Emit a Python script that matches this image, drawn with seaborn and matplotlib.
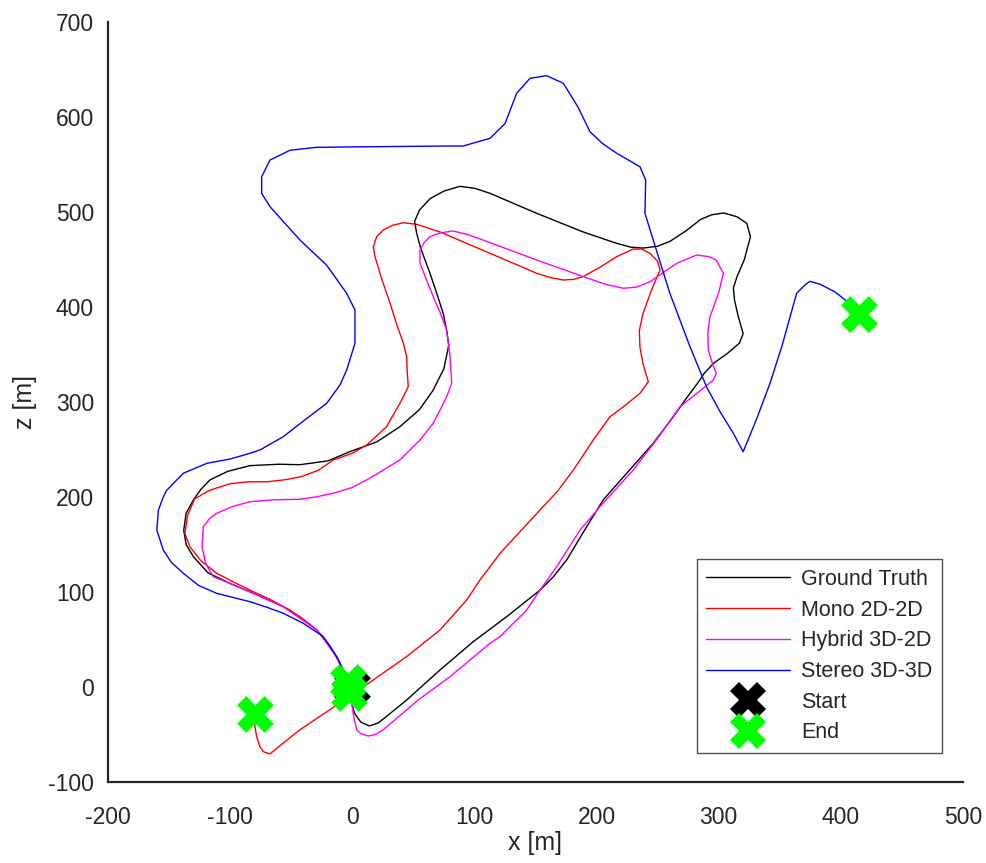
import numpy as np
import pandas as pd
import matplotlib
matplotlib.use("Agg")
import matplotlib.pyplot as plt
from matplotlib.lines import Line2D
import seaborn as sns

# trajectories (x [m], z [m])
gt_x = [0, -4.6, -12.8, -20, -29, -42, -56.5, -78, -100, -118, -130, -136, -138, -136, -130,
        -124, -116.5, -102, -83.8, -60, -42.8, -20, -2, 20, 39, 55, 66, 75, 79, 77, 74.5, 69,
        63.6, 56, 52.7, 51, 55, 63.6, 75, 88, 100, 112.7, 151, 189, 216.5, 228, 238, 250, 260,
        273, 285, 294, 304, 315, 323, 326, 321, 315, 312, 313, 316, 320, 317, 307, 296, 288,
        284.5, 273, 262.8, 246.4, 224.7, 205.5, 191.9, 175.5, 164.6, 153.7, 126.4, 99, 71.8,
        44.5, 28, 21, 14, 7, 2, -0.5, -2]
gt_z = [0, 7.4, 32, 46, 60, 73, 84.5, 97, 109, 120, 137, 150, 165, 183, 197,
        208, 218, 227, 233, 234.5, 234, 238, 247.7, 258, 274, 292, 312, 335, 360, 377, 393, 415,
        435.5, 462, 477.6, 490, 502, 514, 522, 527, 525, 519.7, 498.6, 479, 467, 463, 462, 464, 469,
        480, 492, 497, 499, 495, 488, 474, 450, 432, 420, 407, 390, 372, 362, 351, 341, 330,
        323, 303, 284.5, 256.5, 225, 197, 168.7, 133.7, 116, 102, 74, 47.7, 17.9,
        -13.7, -31, -38, -41, -37, -28, -17, -5]

mono_x = [0, -4, -10, -18, -29, -40, -51, -67, -83.8, -98, -111, -124, -133, -137, -135, -129,
          -117, -100, -85, -70, -56, -42.8, -28, -15.5, 0, 11.8, 28, 39, 45.8, 45, 44.5, 41.8,
          36, 30.9, 24, 18.6, 17.2, 20, 25.4, 33, 41.8, 52.7, 71.8, 110, 151, 162, 172.8, 181,
          189, 203, 216.5, 230, 237, 243.7, 250, 252, 245, 238, 235, 235.5, 238, 242.4, 235.5,
          222, 211, 197.3, 181, 168, 153.7, 121, 104.5, 93.7, 71.8, 44.5, 17.2, -4.6, -42.8,
          -56.5, -67.4, -72.9, -75.6, -78.3, -79.7, -80]
mono_z = [0, 7, 25, 43, 60, 71, 81, 92, 102, 111, 119.7, 133, 147.7, 161.8, 180, 198,
          207, 214, 216, 216, 218, 221, 228, 239, 246, 254.7, 274, 298.6, 316, 332, 347.7, 361.8,
          383, 404, 430, 453, 463.5, 474, 481, 486, 488.7, 487, 479, 458, 435.5, 431, 428.4, 429,
          432, 442, 453, 461, 461, 456.5, 448, 439, 418, 393, 375, 358, 340, 321.4, 309,
          295, 284.5, 260, 228.4, 206, 186.3, 140.7, 112.6, 91.6, 60, 32, 7.4, -12, -45,
          -59, -70.5, -68, -63, -52, -41.8, -28]

hybrid_x = [0, -4.6, -12.8, -29, -56.5, -85, -100, -113.8, -120, -123, -122, -117, -111, -98,
            -83.8, -65, -42.8, -30, -15.5, 0, 11.8, 25, 39, 55.4, 66.3, 72, 77.3, 81.4, 80, 77.3,
            72, 66.3, 55.4, 55.4, 59, 63.6, 72, 82.7, 95, 107, 151, 189, 207, 222, 233, 243.7,
            265.6, 282, 292, 298, 303.8, 300, 292.9, 291, 291.5, 295, 298, 295.6, 268.3, 249,
            230, 202.8, 186.4, 167.3, 153.7, 142.8, 120.9, 112.7, 80, 54, 25.4, 19, 13, 7, 3.6,
            1, -0.5, -3]
hybrid_z = [0, 7.4, 32, 60, 84.5, 101, 109, 116, 130, 147.7, 168.7, 177, 182.8, 190,
            195, 197, 197.6, 200, 204, 210, 218, 228, 239, 260, 277.6, 292, 305.6, 319.7, 347.7, 375.8,
            394, 410.8, 446, 460, 468, 474, 478, 480, 476, 470.5, 449.5, 432, 424, 419.7, 421, 426.6,
            446, 454.7, 453, 449.5, 435.5, 415, 389.8, 372, 354.7, 340, 330, 323, 295, 260,
            228.4, 189.8, 165, 126.6, 102, 81, 53, 46, 10.8, -13.7, -45, -50, -51.6, -49, -45,
            -30, -17, -6]

stereo_x = [0, -4, -12, -23.7, -40, -56.5, -70, -83.8, -111, -126, -138.3, -148, -154.7, -160,
            -158.8, -154.7, -152, -138.3, -119, -100, -83.8, -75.6, -56.5, -40, -21, -10, -4.6,
            2.2, 2.2, -4.6, -21, -42.8, -67.4, -74.2, -74.2, -67.4, -51, -30, -2, 40, 80, 90.9,
            103, 112.7, 125, 134.6, 145.5, 159, 172.8, 185, 194.6, 205, 216.5, 235.5, 240.2,
            239.6, 246.4, 260, 276.5, 290, 301, 312, 320, 331, 342, 352, 363.8, 370.5, 374.6,
            383, 395, 411, 415]
stereo_z = [0, 9, 30, 53, 67, 77.6, 84, 89.8, 98.6, 107, 119.7, 131, 144, 165,
            186, 200, 207, 225, 235.5, 240, 246, 249.5, 263.5, 280, 298.6, 318, 333.7,
            361.8, 396.8, 414.4, 444, 470.5, 505.6, 519.7, 537, 554.7, 565, 568, 568.5, 569, 569.5, 569.5,
            574, 577.5, 593, 625, 640.7, 643.5, 635.5, 610, 584.5, 572, 561.8, 547.7, 533.7,
            498.6, 470.5, 414.4, 358.2, 316, 290, 267, 247.7, 282, 319.7, 360, 414.4, 423, 427,
            424, 416, 400, 393]

series_names = ["Ground Truth", "Mono 2D-2D", "Hybrid 3D-2D", "Stereo 3D-3D"]
series_colors = ["#000000", "#ff0000", "#ff00ff", "#0000ff"]

start_x = [0]
start_z = [0]
end_x = [-3.5, -80, -3, 415]
end_z = [5, -28, -6, 393]

sns.set_theme(style="white")
plt.rcParams["font.family"] = ["Liberation Sans", "DejaVu Sans"]
plt.rcParams["axes.unicode_minus"] = False

fig = plt.figure(figsize=(9.86, 8.63), dpi=100)
ax = fig.add_axes([108 / 986, 81 / 863, 855 / 986, 760 / 863])

tracks = [(gt_x, gt_z), (mono_x, mono_z), (hybrid_x, hybrid_z), (stereo_x, stereo_z)]
for (tx, tz), name, col in zip(tracks, series_names, series_colors):
    df = pd.DataFrame({"x": tx, "z": tz})
    sns.lineplot(data=df, x="x", y="z", sort=False, estimator=None, color=col,
                 linewidth=1.0, ax=ax, zorder=2)

msize = 26.5
sns.scatterplot(x=start_x, y=start_z, marker="X", s=msize ** 2, color="black",
                linewidth=0, ax=ax, zorder=3)
sns.scatterplot(x=end_x, y=end_z, marker="X", s=msize ** 2, color="#00ff00",
                linewidth=0, ax=ax, zorder=4)

ax.set_xlim(-200, 500)
ax.set_ylim(-100, 700)
ax.set_xticks(range(-200, 501, 100))
ax.set_yticks(range(-100, 701, 100))

dark = "#262626"
for side in ["top", "right"]:
    ax.spines[side].set_visible(False)
for side in ["left", "bottom"]:
    ax.spines[side].set_color(dark)
    ax.spines[side].set_linewidth(1.6)
ax.tick_params(axis="both", direction="in", length=9, width=1.6, color=dark,
               labelsize=16.5, labelcolor=dark)
ax.tick_params(axis="x", pad=17)
ax.tick_params(axis="y", pad=10)
ax.set_xlabel("x [m]", fontsize=18, color=dark, labelpad=2)
ax.set_ylabel("z [m]", fontsize=18, color=dark, labelpad=8)

handles = [Line2D([], [], color=c, lw=1.0) for c in series_colors]
handles.append(Line2D([], [], ls="none", marker="X", markersize=msize, color="black", mew=0))
handles.append(Line2D([], [], ls="none", marker="X", markersize=msize, color="#00ff00", mew=0))
labels = series_names + ["Start", "End"]
leg = ax.legend(handles, labels, loc="lower right", bbox_to_anchor=(0.9754, 0.038),
                borderaxespad=0, fontsize=15.5, frameon=True, fancybox=False,
                handlelength=3.9, handletextpad=0.5, labelspacing=0.45, borderpad=0.45)
leg.get_frame().set_edgecolor(dark)
leg.get_frame().set_linewidth(1.0)

fig.savefig("out.png", dpi=100)
